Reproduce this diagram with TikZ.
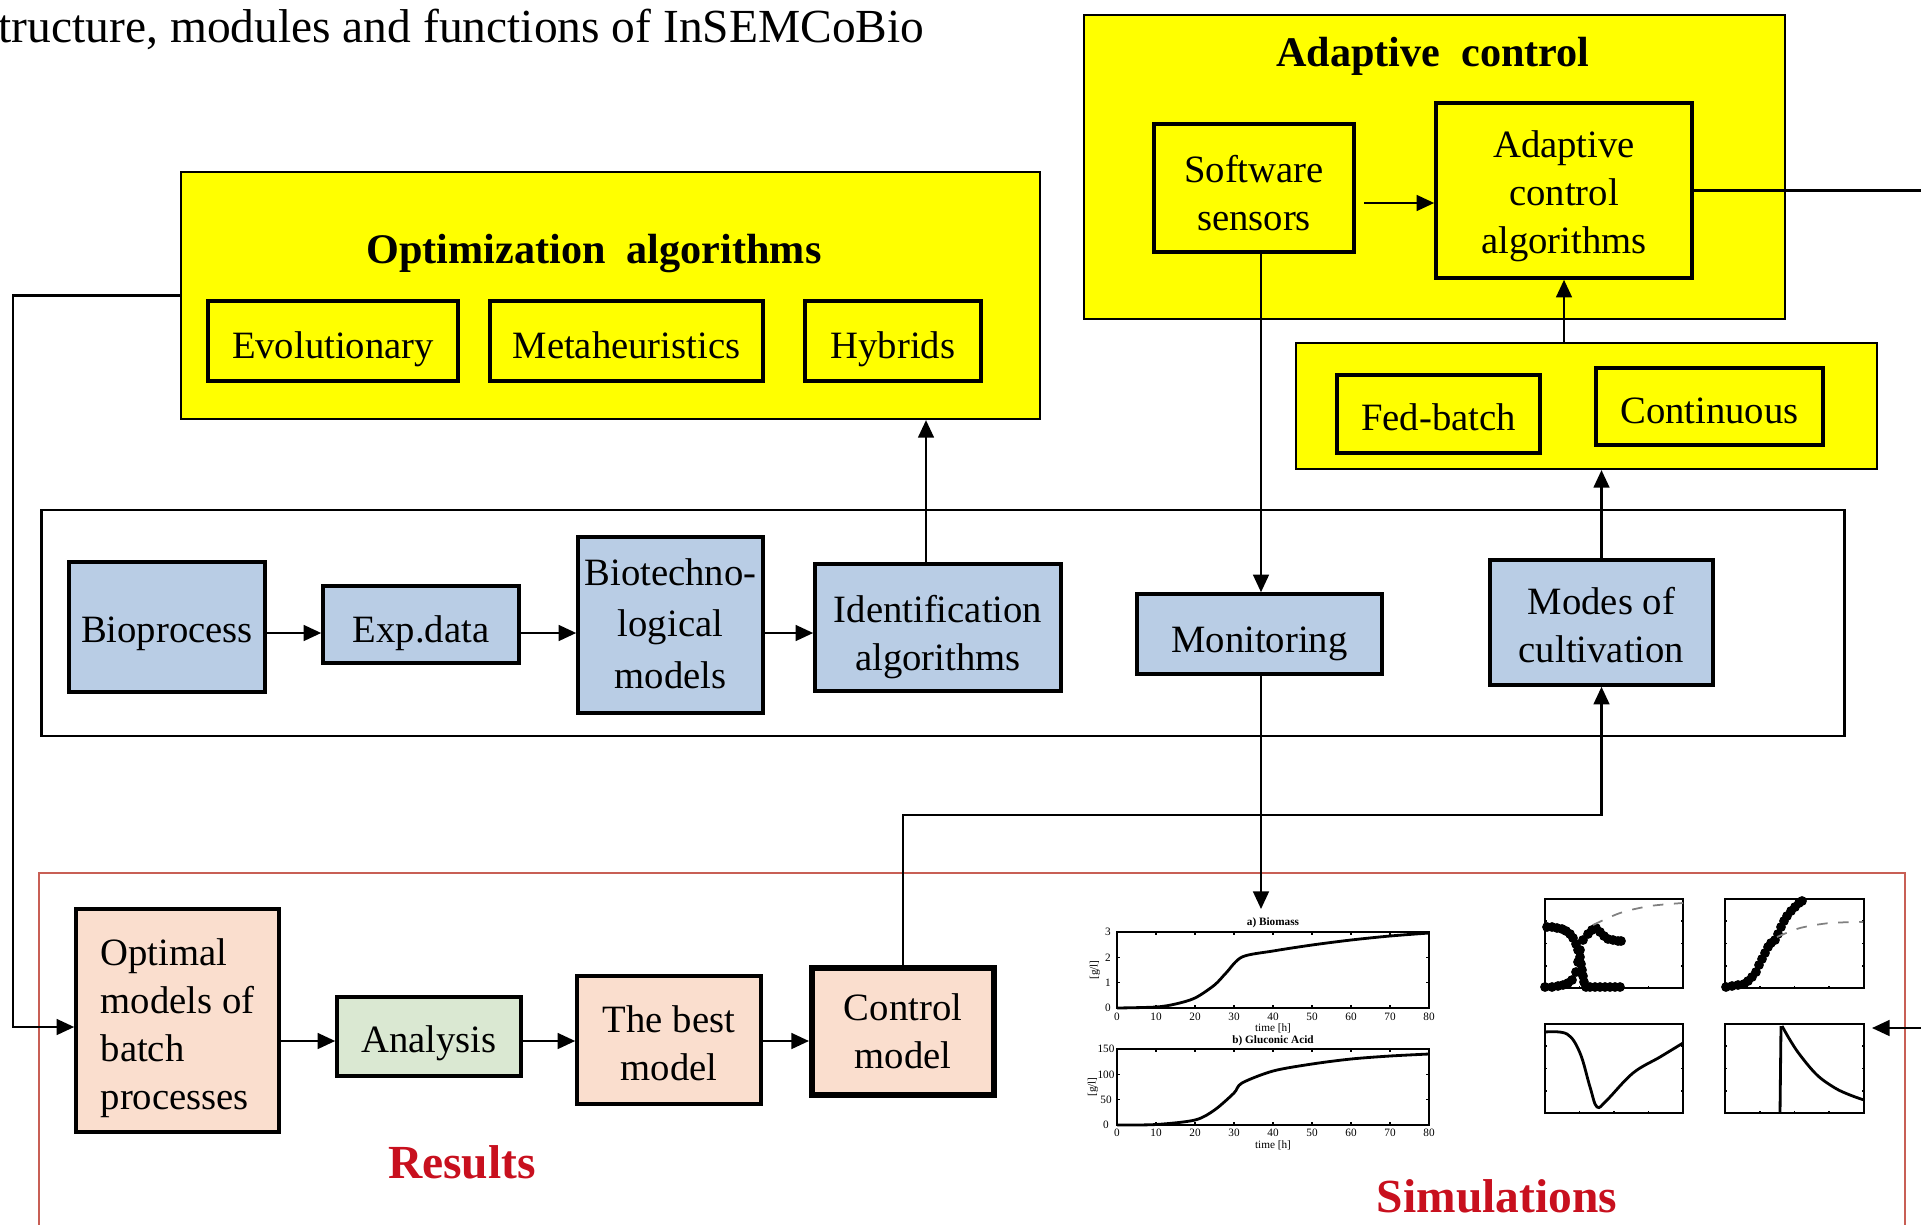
\documentclass[tikz,border=0pt]{standalone}
\usepackage{fontspec}
\setmainfont{Liberation Serif}
\usetikzlibrary{arrows.meta,calc}
\definecolor{yel}{RGB}{255,255,0}
\definecolor{bluefill}{RGB}{185,205,229}
\definecolor{peach}{RGB}{250,222,206}
\definecolor{palegreen}{RGB}{218,232,210}
\definecolor{redtxt}{RGB}{200,16,30}
\definecolor{redframe}{RGB}{200,95,85}
% box text: #1 box name, #2 offset (px) of first baseline below centre, #3 column spec, #4 text
\newcommand\boxtxt[4]{\node[boxtext, anchor=base] (#1T) at ($(#1.center)+(0,#2)$) {\begin{tabular}[t]{@{}#3@{}}#4\end{tabular}};}
\begin{document}
\begin{tikzpicture}[x=0.01cm,y=-0.01cm,
  box/.style={draw, line width=1pt, inner sep=0pt},
  boxtext/.style={inner sep=0pt, font=\fontsize{11}{13.7}\selectfont},
  container/.style={draw, line width=0.6pt, fill=yel, inner sep=0pt},
  bigtitle/.style={inner sep=0pt, anchor=base, font=\fontsize{12}{14}\selectfont\bfseries},
  redlabel/.style={inner sep=0pt, anchor=base, text=redtxt, font=\fontsize{13.5}{15}\selectfont\bfseries},
  conn/.style={line width=0.6pt},
  arr/.style={conn, -{Triangle[length=5pt,width=4.5pt]}},
  tick/.style={inner sep=0pt, font=\fontsize{3.2}{4}\selectfont},
  curve/.style={line width=0.8pt},
]
\useasboundingbox (0,0) rectangle (1921,1224);

% title
\node[inner sep=0pt, anchor=base west, font=\fontsize{13.5}{15}\selectfont] (title) at (-2,42) {tructure, modules and functions of InSEMCoBio};

% containers
\node[container, minimum width=7.01cm, minimum height=3.04cm] (adaptbox) at (1434.5,167) {};
\node[bigtitle] (adapttitle) at (1433,67) {Adaptive\ \ control};
\node[container, minimum width=5.81cm, minimum height=1.26cm] (fedcont) at (1586.5,406) {};
\node[container, minimum width=8.59cm, minimum height=2.47cm] (optbox) at (610.5,295.5) {};
\node[bigtitle] (opttitle) at (594,263) {Optimization\ \ algorithms};
\node[draw, line width=0.6pt, inner sep=0pt, minimum width=18.02cm, minimum height=2.26cm] (midbox) at (943,623) {};
\draw[redframe, line width=0.7pt] (39,1240) |- (1905,873) -- (1905,1240);

% yellow boxes
\node[box, fill=yel, minimum width=2.00cm, minimum height=1.28cm] (sensors) at (1254,188) {};
\boxtxt{sensors}{-6}{c}{Software\\sensors}
\node[box, fill=yel, minimum width=2.56cm, minimum height=1.75cm] (acalg) at (1564,190.5) {};
\boxtxt{acalg}{-33.5}{c}{Adaptive\\control\\algorithms}
\node[box, fill=yel, minimum width=2.03cm, minimum height=0.78cm] (fedbatch) at (1438.5,414) {};
\boxtxt{fedbatch}{16}{c}{Fed-batch}
\node[box, fill=yel, minimum width=2.27cm, minimum height=0.77cm] (continuous) at (1709.5,406.5) {};
\boxtxt{continuous}{17}{c}{Continuous}
\node[box, fill=yel, minimum width=2.50cm, minimum height=0.80cm] (evol) at (333,341) {};
\boxtxt{evol}{17}{c}{Evolutionary}
\node[box, fill=yel, minimum width=2.73cm, minimum height=0.80cm] (meta) at (626.5,341) {};
\boxtxt{meta}{17}{c}{Metaheuristics}
\node[box, fill=yel, minimum width=1.76cm, minimum height=0.80cm] (hybrids) at (893,341) {};
\boxtxt{hybrids}{17}{c}{Hybrids}

% blue boxes
\node[box, fill=bluefill, minimum width=1.96cm, minimum height=1.30cm] (bio) at (167,627) {};
\boxtxt{bio}{15}{c}{Bioprocess}
\node[box, fill=bluefill, minimum width=1.96cm, minimum height=0.77cm] (exp) at (421,624.5) {};
\boxtxt{exp}{17.5}{c}{Exp.data}
\node[box, fill=bluefill, minimum width=1.85cm, minimum height=1.76cm] (biotech) at (670.5,625) {};
\node[boxtext, anchor=base, font=\fontsize{11}{14.65}\selectfont] (biotechT) at ($(biotech.center)+(0,-40)$) {\begin{tabular}[t]{@{}c@{}}Biotechno-\\logical\\models\end{tabular}};
\node[box, fill=bluefill, minimum width=2.46cm, minimum height=1.27cm] (ident) at (938,627.5) {};
\boxtxt{ident}{-5.5}{c}{Identification\\algorithms}
\node[box, fill=bluefill, minimum width=2.45cm, minimum height=0.80cm] (monitor) at (1259.5,634) {};
\boxtxt{monitor}{18}{c}{Monitoring}
\node[box, fill=bluefill, minimum width=2.23cm, minimum height=1.25cm] (modes) at (1601.5,622.5) {};
\boxtxt{modes}{-8}{c}{Modes of\\cultivation}

% results boxes
\node[box, fill=peach, minimum width=2.03cm, minimum height=2.23cm] (optimal) at (177.5,1020.5) {};
\boxtxt{optimal}{-55.5}{l}{Optimal\\models of\\batch\\processes}
\node[box, fill=palegreen, minimum width=1.84cm, minimum height=0.79cm] (analysis) at (429,1036.5) {};
\boxtxt{analysis}{15.5}{c}{Analysis}
\node[box, fill=peach, minimum width=1.84cm, minimum height=1.28cm] (best) at (669,1040) {};
\boxtxt{best}{-8}{c}{The best\\model}
\node[box, fill=peach, line width=1.7pt, minimum width=1.82cm, minimum height=1.27cm] (control) at (903,1031.5) {};
\boxtxt{control}{-11.5}{c}{Control\\model}
\node[redlabel] (results) at (462,1178) {Results};
\node[redlabel] (simulations) at (1497,1212) {Simulations};

% ---------- simulation plots (left pair)
\begin{scope}[line width=0.4pt]
\draw (1117,932) rectangle (1429,1008);
\draw (1117,1049) rectangle (1429,1125);
\foreach \i/\l in {0/0,1/10,2/20,3/30,4/40,5/50,6/60,7/70,8/80}{
  \draw (1117+39*\i,1008) -- ++(0,-3) (1117+39*\i,932) -- ++(0,3);
  \draw (1117+39*\i,1125) -- ++(0,-3) (1117+39*\i,1049) -- ++(0,3);
  \node[tick] (ta\i) at (1117+39*\i,1017) {\l};
  \node[tick] (tb\i) at (1117+39*\i,1133) {\l};
}
\foreach \j/\l in {0/0,1/1,2/2,3/3}{
  \draw (1117,1008-25.33*\j) -- ++(3,0) (1429,1008-25.33*\j) -- ++(-3,0);
  \node[tick] (ya\j) at (1108,1008-25.33*\j) {\l};
}
\foreach \j/\l in {0/0,1/50,2/100,3/150}{
  \draw (1117,1125-25.33*\j) -- ++(3,0) (1429,1125-25.33*\j) -- ++(-3,0);
  \node[tick] (yb\j) at (1106,1125-25.33*\j) {\l};
}
\node[tick, font=\fontsize{3.2}{4}\selectfont\bfseries] (ttla) at (1273,923) {a) Biomass};
\node[tick, font=\fontsize{3.2}{4}\selectfont\bfseries] (ttlb) at (1273,1041) {b) Gluconic Acid};
\node[tick] (xla) at (1273,1028) {time [h]};
\node[tick] (xlb) at (1273,1145) {time [h]};
\node[tick, rotate=90] (yla) at (1095,970) {[g/l]};
\node[tick, rotate=90] (ylb) at (1093,1087) {[g/l]};
\draw[curve] plot[smooth, tension=0.5] coordinates {(1117,1008) (1156,1007) (1175.5,1004) (1195,998) (1214.5,985) (1226,973) (1242,957) (1273,951) (1312,945) (1351,940) (1390,936) (1429,933)};
\draw[curve] plot[smooth, tension=0.5] coordinates {(1117,1125) (1156,1124.5) (1195,1120) (1214.5,1110) (1234,1093) (1242,1083) (1273,1071) (1312,1064) (1351,1059) (1390,1056) (1429,1054)};
\end{scope}

% ---------- simulation plots (right four)
\begin{scope}[line width=0.5pt]
\draw (1545,899) rectangle (1683,988);
\draw (1725,899) rectangle (1864,988);
\draw (1545,1024) rectangle (1683,1113);
\draw (1725,1024) rectangle (1864,1113);
\foreach \x in {0,1,2,3,4}{
  \draw (1545+34.5*\x,988) -- ++(0,-2) (1545+34.5*\x,1113) -- ++(0,-2);
  \draw (1725+34.75*\x,988) -- ++(0,-2) (1725+34.75*\x,1113) -- ++(0,-2);
  \draw (1545,899+22.25*\x) -- ++(2,0) (1683,899+22.25*\x) -- ++(-2,0);
  \draw (1725,899+22.25*\x) -- ++(2,0) (1864,899+22.25*\x) -- ++(-2,0);
  \draw (1545,1024+22.25*\x) -- ++(2,0) (1683,1024+22.25*\x) -- ++(-2,0);
  \draw (1725,1024+22.25*\x) -- ++(2,0) (1864,1024+22.25*\x) -- ++(-2,0);
}
\foreach \p in {(1547,927),(1552,927),(1557,928),(1562,929),(1566,931),(1570,934),(1573,938),(1576,944),(1578,950),(1580,957),(1581,964),(1582,970),(1583,976),(1584,982),(1586,987),(1590,987),(1595,987),(1600,987),(1605,987),(1610,987),(1615,987),(1620,987),
  (1545,987),(1552,987),(1558,986),(1563,985),(1568,983),(1572,980),(1576,972),(1578,962),(1580,950),(1583,940),(1588,934),(1592,930),(1596,928),(1600,932),(1604,936),(1608,939),(1613,940),(1618,941),(1621,941)}
  \fill \p circle[radius=1.4pt];
\draw[gray, dashed] plot[smooth] coordinates {(1593,925) (1620,913) (1650,906) (1683,903)};
\foreach \p in {(1726,987),(1732,986),(1738,985),(1744,984),(1748,981),(1752,977),(1756,972),(1759,965),(1762,959),(1765,953),(1768,947),(1771,943),(1775,940),(1778,934),(1781,927),(1784,921),(1787,916),(1791,911),(1795,907),(1799,903),(1802,901)}
  \fill \p circle[radius=1.4pt];
\draw[gray, dashed] plot[smooth] coordinates {(1777,937) (1800,928) (1830,923) (1863,922)};
\draw[curve] plot[smooth, tension=0.6] coordinates {(1545,1032) (1567,1034) (1580,1053) (1590,1087) (1597,1107) (1607,1100) (1633,1073) (1660,1057) (1683,1043)};
\draw[curve] (1780,1113) -- (1781,1026);
\draw[curve] plot[smooth, tension=0.6] coordinates {(1782,1026) (1790,1040) (1800,1055) (1817,1075) (1835,1088) (1850,1095) (1864,1100)};
\end{scope}

% ---------- connectors
\coordinate (loopL) at (13,1027);
\draw[arr] (optbox.west) -| (loopL) -- (loopL -| optimal.west);

\coordinate (identup) at (926,0);
\draw[arr] (identup |- ident.north) -- (identup |- optbox.south);

\coordinate (sa) at (1364,203);
\draw[arr] (sa) -- (sa -| acalg.west);

\coordinate (sm) at (1261,0);
\draw[arr] (sm |- sensors.south) -- (sm |- monitor.north);
\coordinate (plotin) at (1261,909);
\draw[arr] (sm |- monitor.south) -- (plotin);

\draw[arr] (acalg.south |- fedcont.north) -- (acalg.south);
\draw[arr] (modes.north) -- (modes.north |- fedcont.south);

\coordinate (cm) at (0,815);
\draw[arr] (control.north) -- (control.north |- cm) -| (modes.south);

\coordinate (rightA) at (1921,190.5);
\draw[conn] (acalg.east) -- (rightA);
\coordinate (rightB) at (1921,1028);
\coordinate (simin) at (1872,1028);
\draw[arr] (rightB) -- (simin);

\coordinate (rowA) at (0,633);
\draw[arr] (rowA -| bio.east) -- (rowA -| exp.west);
\draw[arr] (rowA -| exp.east) -- (rowA -| biotech.west);
\draw[arr] (rowA -| biotech.east) -- (rowA -| ident.west);

\coordinate (rowB) at (0,1041);
\draw[arr] (rowB -| optimal.east) -- (rowB -| analysis.west);
\draw[arr] (rowB -| analysis.east) -- (rowB -| best.west);
\draw[arr] (rowB -| best.east) -- (rowB -| control.west);
\end{tikzpicture}
\end{document}
